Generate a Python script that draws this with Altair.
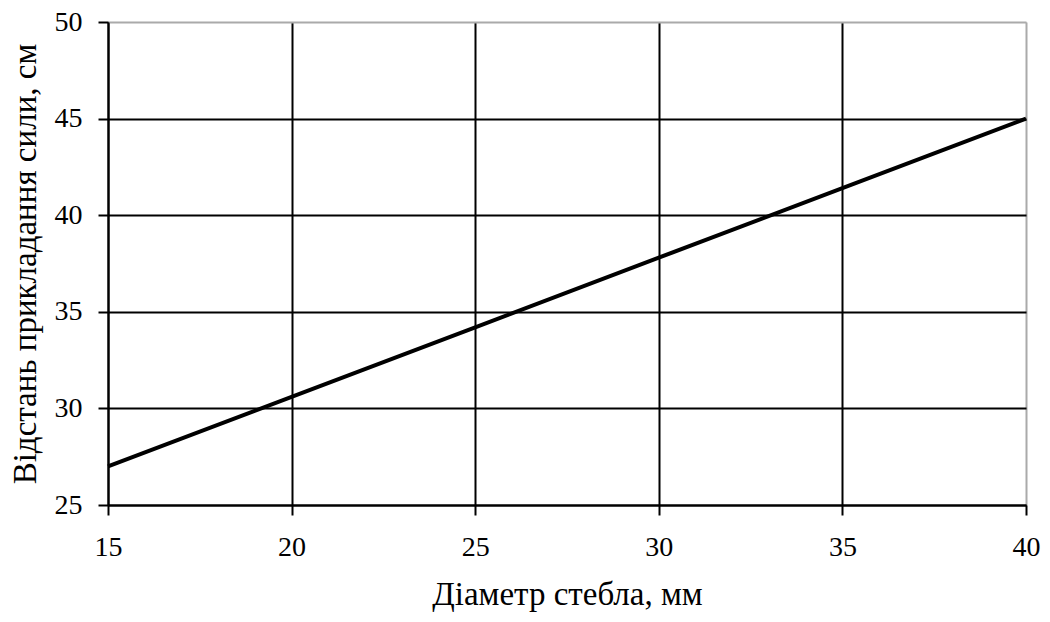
import altair as alt
import pandas as pd

diameter = [15, 20, 25, 30, 35, 40]
distance = [27.0, 30.6, 34.2, 37.8, 41.4, 45.0]
x_ticks = [15, 20, 25, 30, 35, 40]
y_ticks = [25, 30, 35, 40, 45, 50]

df = pd.DataFrame({"d": diameter, "l": distance})

FONT = "Liberation Serif"

chart = alt.Chart(df).mark_line(color="black", strokeWidth=4).encode(
    x=alt.X("d:Q", scale=alt.Scale(domain=[15, 40], nice=False, zero=False),
            axis=alt.Axis(values=x_ticks, title="Діаметр стебла, мм",
                          gridColor={"condition": {"test": "datum.value == 40", "value": "#aaaaaa"}, "value": "black"},
                          labelPadding=18, titlePadding=17)),
    y=alt.Y("l:Q", scale=alt.Scale(domain=[25, 50], nice=False, zero=False),
            axis=alt.Axis(values=y_ticks, title="Відстань прикладання сили, см",
                          gridColor={"condition": {"test": "datum.value == 50", "value": "#aaaaaa"}, "value": "black"},
                          labelPadding=16, titlePadding=12)),
).properties(
    width=918, height=483,
    autosize=alt.AutoSizeParams(type="none"),
    padding={"left": 100, "top": 14, "right": 16, "bottom": 109},
).configure_view(stroke=None).configure(background="white").configure_axis(
    gridWidth=2, tickSize=10, tickWidth=2, tickColor="black",
    domainColor="black", domainWidth=2,
    labelFontSize=28, labelColor="black", labelFont=FONT, labelFlush=False,
    titleFont=FONT, titleFontSize=33, titleFontWeight="normal", titleColor="black",
)

chart.save("out.html", embed_options={"renderer": "svg", "actions": False})
